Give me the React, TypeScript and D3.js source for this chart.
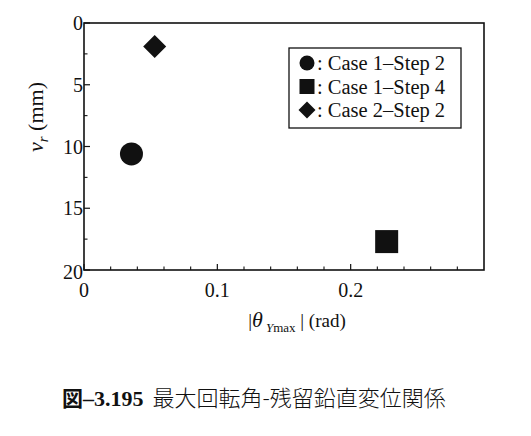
import React from "react";
import * as d3 from "d3";

// series: |θYmax| (rad), νr (mm)
const seriesNames = ["Case 1\u2013Step 2", "Case 1\u2013Step 4", "Case 2\u2013Step 2"];
const seriesShapes = ["circle", "square", "diamond"];
const thetaValues = [0.0356, 0.227, 0.053];
const nuValues = [10.6, 17.7, 1.9];

const xMajorTicks = [0, 0.1, 0.2];
const xTickLabels = ["0", "0.1", "0.2"];
const yMajorTicks = [0, 5, 10, 15, 20];
const yTickLabels = ["0", "5", "10", "15", "20"];

const W = 531;
const H = 436;
const margin = { top: 23, right: 42, bottom: 166, left: 84 };

const serif = "Liberation Serif, DejaVu Serif, serif";
const cjk = "Noto Sans CJK JP, sans-serif";

const Marker = ({ shape, x, y, s }) => {
  if (shape === "circle") return <circle cx={x} cy={y} r={s * 0.5} fill="#111" />;
  if (shape === "square")
    return <rect x={x - s * 0.5} y={y - s * 0.5} width={s} height={s} fill="#111" />;
  const h = s * 0.5;
  return (
    <path
      d={`M${x},${y - h}L${x + h},${y}L${x},${y + h}L${x - h},${y}Z`}
      fill="#111"
    />
  );
};

export default function App() {
  const x = d3
    .scaleLinear()
    .domain([0, 0.3])
    .range([margin.left, W - margin.right - 5]);
  const y = d3
    .scaleLinear()
    .domain([0, 20])
    .range([margin.top, H - margin.bottom]);

  const [x0, x1] = x.range();
  const [y0, y1] = y.range();

  // minor ticks every 0.02 (skipping the majors) and every 2.5 mm
  const xMinor = d3.range(1, 15).map((k) => k * 0.02).filter((v) => Math.abs(v * 10 - Math.round(v * 10)) > 1e-6);
  const yMinor = d3.range(2.5, 20, 5);

  const ts = { fontFamily: serif };

  return (
    <svg
      width={W}
      height={H}
      style={{ position: "absolute", left: 0, top: 0, background: "#fff", fontFamily: serif }}
    >
      {/* frame */}
      <rect x={x0} y={y0} width={x1 - x0} height={y1 - y0} fill="none" stroke="#111" strokeWidth={1.6} />

      {/* x ticks (inward) */}
      {xMajorTicks.map((t) => (
        <line key={"xm" + t} x1={x(t)} x2={x(t)} y1={y1} y2={y1 - 6} stroke="#111" strokeWidth={1.2} />
      ))}
      {xMinor.map((t) => (
        <line key={"xn" + t} x1={x(t)} x2={x(t)} y1={y1} y2={y1 - 3.5} stroke="#111" strokeWidth={1.1} />
      ))}
      {xMajorTicks.map((t, i) => (
        <text key={"xl" + t} x={x(t)} y={y1 + 27} textAnchor="middle" fontSize={20} fill="#111" style={ts}>
          {xTickLabels[i]}
        </text>
      ))}

      {/* y ticks (inward) */}
      {yMajorTicks.map((t) => (
        <line key={"ym" + t} x1={x0} x2={x0 + 6} y1={y(t)} y2={y(t)} stroke="#111" strokeWidth={1.2} />
      ))}
      {yMinor.map((t) => (
        <line key={"yn" + t} x1={x0} x2={x0 + 3.5} y1={y(t)} y2={y(t)} stroke="#111" strokeWidth={1.1} />
      ))}
      {yMajorTicks.map((t, i) => (
        <text
          key={"yl" + t}
          x={x0 - 1}
          y={y(t) + (t === 20 ? 9 : 7)}
          textAnchor="end"
          fontSize={20}
          fill="#111"
          style={ts}
        >
          {yTickLabels[i]}
        </text>
      ))}

      {/* axis titles */}
      <text x={(x0 + x1) / 2 + 13} y={y1 + 57} textAnchor="middle" fontSize={19} fill="#111" style={ts}>
        |<tspan fontStyle="italic" fontSize={22}>θ</tspan>
        <tspan dx={3} dy={5} fontSize={13}>
          <tspan fontStyle="italic">Y</tspan>max
        </tspan>
        <tspan dy={-5}> | (rad)</tspan>
      </text>
      <text transform="translate(43,117) rotate(-90)" textAnchor="middle" fontSize={22} fill="#111" style={ts}>
        <tspan fontStyle="italic">ν</tspan>
        <tspan fontStyle="italic" fontSize={15} dy={5}>r</tspan>
        <tspan dy={-5}> (mm)</tspan>
      </text>

      {/* data */}
      {thetaValues.map((t, i) => (
        <Marker key={"p" + i} shape={seriesShapes[i]} x={x(t)} y={y(nuValues[i])} s={23} />
      ))}

      {/* legend */}
      <rect x={289} y={48} width={172} height={80} fill="#fff" stroke="#111" strokeWidth={1.3} />
      {seriesNames.map((name, i) => (
        <g key={"lg" + i}>
          <Marker shape={seriesShapes[i]} x={307} y={63 + i * 23.5} s={i === 2 ? 17 : 15} />
          <text x={317} y={70 + i * 23.5} fontSize={20.5} fill="#111" style={ts}>
            : {name}
          </text>
        </g>
      ))}

      {/* caption */}
      <text x={62} y={406} fontSize={22} fill="#111" style={{ fontFamily: cjk }}>
        <tspan fontWeight="bold" fontSize={21} style={{ fontFamily: cjk }}>図</tspan>
        <tspan fontWeight="bold" style={ts} fontSize={22}>–3.195</tspan>
        <tspan dx={9} fontWeight={300}>最大回転角-残留鉛直変位関係</tspan>
      </text>
    </svg>
  );
}
